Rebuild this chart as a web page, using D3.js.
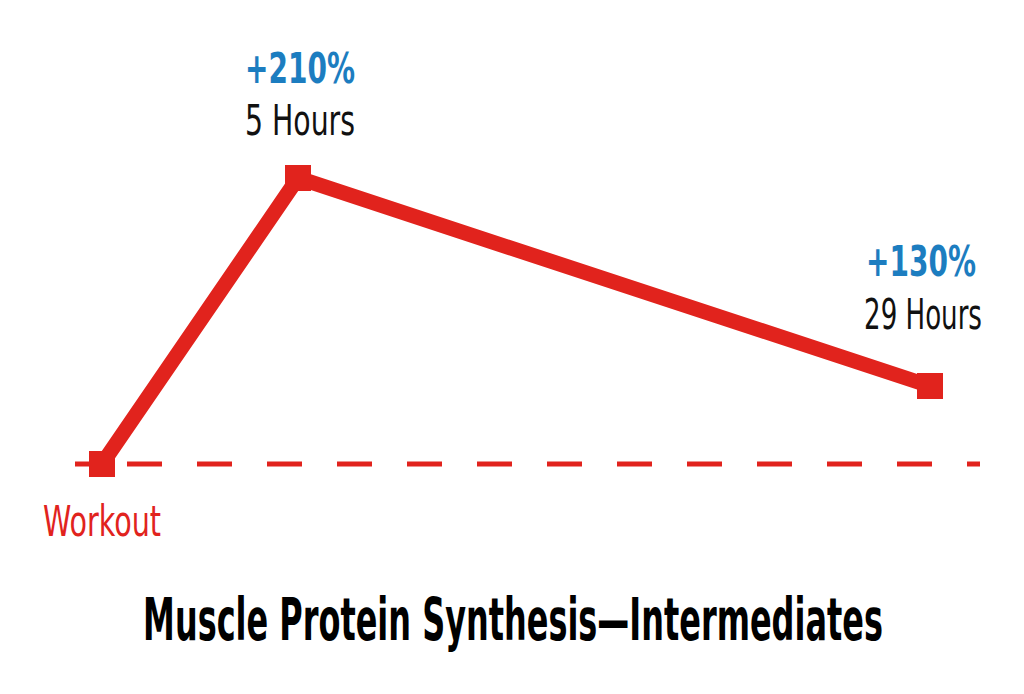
<!DOCTYPE html>
<html><head><meta charset="utf-8">
<script src="https://cdn.jsdelivr.net/npm/d3@7"></script>
<style>
html,body{margin:0;padding:0;background:#fff;}
text{font-family:"Liberation Sans Narrow","DejaVu Sans Condensed","Roboto Condensed",sans-serif;}
</style></head><body>
<svg id="chart" width="1024" height="694"></svg>
<script>
// Data
const pointNames = ["Workout", "5 Hours", "29 Hours"];
const hours = [0, 5, 29];
const increasePct = [0, 210, 130];
const pctLabels = ["", "+210%", "+130%"];
const title = "Muscle Protein Synthesis\u2014Intermediates";

const red = "#e1231d", blue = "#1c7dc0";
const svg = d3.select("#chart");

// Illustrative (non-linear) scales, as in the original graphic
const x = d3.scaleLinear().domain([0, 5, 29]).range([102, 298, 930]);
const y = d3.scaleLinear().domain([0, 130, 210]).range([464, 386, 178]);

const pts = hours.map((h, i) => ({h, v: increasePct[i], name: pointNames[i], pct: pctLabels[i]}));

// Baseline dashed
svg.append("line")
  .attr("x1", 75).attr("x2", 980)
  .attr("y1", y(0)).attr("y2", y(0))
  .attr("stroke", red).attr("stroke-width", 5)
  .attr("stroke-dasharray", "35,35").attr("stroke-dashoffset", 18);

// Line
svg.append("path")
  .datum(pts)
  .attr("fill", "none").attr("stroke", red).attr("stroke-width", 15)
  .attr("stroke-linejoin", "miter")
  .attr("d", d3.line().x(d => x(d.h)).y(d => y(d.v)));

// Square markers
const s = 26;
svg.selectAll("rect.m").data(pts).enter().append("rect")
  .attr("x", d => x(d.h) - s/2).attr("y", d => y(d.v) - s/2)
  .attr("width", s).attr("height", s).attr("fill", red);

// Condensed labels: scale horizontally to the target width
function label(txt, cx, base, size, color, weight, w) {
  const g = svg.append("g");
  const t = g.append("text").text(txt)
    .attr("x", 0).attr("y", 0).attr("text-anchor", "middle")
    .attr("font-size", size).attr("font-weight", weight).attr("fill", color);
  const nat = t.node().getComputedTextLength() || w;
  g.attr("transform", `translate(${cx},${base}) scale(${w / nat},1)`);
}

// Labels
label(pts[1].pct, 300, 83, 42, blue, "bold", 110);
label(pts[1].name, 300, 135, 42, "#111", "normal", 110);
label(pts[2].pct, 921, 276, 42, blue, "bold", 110);
label(pts[2].name, 923, 329, 42, "#111", "normal", 118);
label(pts[0].name, 102, 536, 42, red, "normal", 118);

// Title
label(title, 513, 640, 58, "#000", "bold", 740);
</script>
</body></html>
